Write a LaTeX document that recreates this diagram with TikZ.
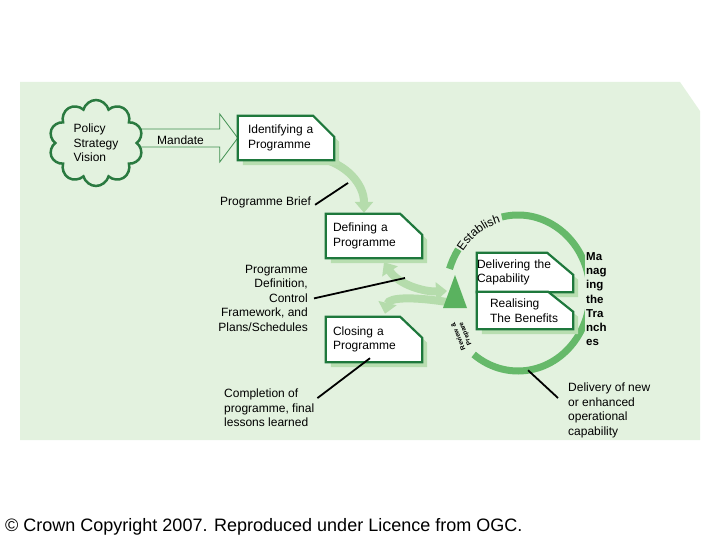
\documentclass[tikz,border=0pt]{standalone}
\usepackage{fontspec}
\setmainfont{Liberation Sans}
\usetikzlibrary{shapes.symbols,arrows.meta,calc,decorations.text}
\definecolor{panelbg}{HTML}{E3F2DF}
\definecolor{boxgreen}{HTML}{1E783C}
\definecolor{cloudgreen}{HTML}{2A7A40}
\definecolor{shadowgreen}{HTML}{B8DEB0}
\definecolor{lightarrow}{HTML}{B5DCAC}
\definecolor{ringgreen}{HTML}{66B96A}
\definecolor{trigreen}{HTML}{5AB25F}
\definecolor{mandgreen}{HTML}{3F8F50}
\pgfdeclarelayer{panel}
\pgfdeclarelayer{arrows}
\pgfdeclarelayer{boxes}
\pgfsetlayers{panel,arrows,boxes,main}
\newcommand{\drawchbox}[3]{%
  \fill[shadowgreen] ($(#1.north west)+(5,5)$) -- ($(#1.north east)+(5-#2,5)$) -- ($(#1.north east)+(5,5+#3)$) -- ($(#1.south east)+(5,5)$) -- ($(#1.south west)+(5,5)$) -- cycle;
  \filldraw[fill=white, draw=boxgreen, line width=2.2pt] (#1.north west) -- ($(#1.north east)+(-#2,0)$) -- ($(#1.north east)+(0,#3)$) -- (#1.south east) -- (#1.south west) -- cycle;
}
\tikzset{
  txt/.style={inner sep=0pt, align=left},
  pbox/.style={inner ysep=0pt, align=left},
  pointer/.style={draw=black, line width=1.8pt},
  lightarr/.style={draw=lightarrow, line width=8pt, -{Triangle[width=18pt,length=11pt]}},
  lightarrboth/.style={draw=lightarrow, line width=8pt, {Triangle[width=18pt,length=11pt]}-{Triangle[width=18pt,length=11pt]}},
  ringline/.style={draw=ringgreen, line width=7pt},
  mandarrow/.style={draw=mandgreen, line width=0.8pt, line join=miter},
}
\begin{document}
\begin{tikzpicture}[x=1pt, y=-1pt, font=\fontsize{12}{14.5}\selectfont]
\useasboundingbox (0,0) rectangle (720,540);

\begin{pgfonlayer}{panel}
  \fill[panelbg] (20,82) -- (680,82) -- (700,111) -- (700,440) -- (20,440) -- cycle;
\end{pgfonlayer}

% cloud
\node[cloud, cloud puffs=10, aspect=1.1, draw=cloudgreen, line width=2.5pt, fill=panelbg,
      minimum width=94pt, minimum height=86pt, align=left, inner sep=0pt] (cloud) at (96,143)
      {Policy\\Strategy\\Vision};

% process boxes
\node[pbox, text width=76pt, inner xsep=10pt, minimum height=44pt] (ident) at (286,138) {Identifying a\\Programme};
\node[pbox, text width=82pt, inner xsep=7pt, minimum height=44pt] (defn) at (374,236) {Defining a\\Programme};
\node[pbox, text width=82pt, inner xsep=7pt, minimum height=45pt] (closing) at (374,339.5) {Closing a\\Programme};
\node[pbox, text width=96pt, inner xsep=0pt, minimum height=39pt] (deliv) at (525,272.5) {Delivering the\\Capability};
\node[pbox, text width=70pt, inner xsep=13pt, minimum height=37pt] (realis) at (525,310.5) {Realising\\The Benefits};

\begin{pgfonlayer}{boxes}
  \drawchbox{ident}{21}{21}
  \drawchbox{defn}{22}{21}
  \drawchbox{closing}{22}{21}
  \drawchbox{deliv}{26}{22}
  \drawchbox{realis}{25}{20}
  \fill[trigreen] (455,275) -- (467,308) -- (443,308) -- cycle;
\end{pgfonlayer}
\coordinate (tri) at (455,295);

% mandate arrow
\coordinate (ms) at (cloud.center |- ident.west);
\node[txt, anchor=west] (mandate) at (157,140) {Mandate};
\begin{pgfonlayer}{arrows}
  \draw[mandarrow] ($(ms)+(0,-9)$) -- ($(ident.west)+(-18,-9)$) -- ($(ident.west)+(-18,-24)$) -- (ident.west)
        -- ($(ident.west)+(-18,24)$) -- ($(ident.west)+(-18,9)$) -- ($(ms)+(0,9)$);
  % light green flow arrows
  \draw[lightarr] ($(ident.south east)+(-14,-2)$) .. controls ($(ident.south east)+(12,4)$) and ($(defn.north)+(-10,-30)$) .. ($(defn.north)+(-10,-1)$);
  \draw[lightarrboth] ($(defn.south)+(10,4)$) .. controls ($(defn.south)+(25,27)$) and ($(tri)+(-30,-3)$) .. ($(tri)+(-8,-4)$);
  \draw[lightarr] ($(tri)+(-8,7)$) .. controls ($(tri)+(-40,2)$) and ($(closing.north)+(15,-20)$) .. ($(closing.north)+(11,-3)$);
  % ring
  \coordinate (ringc) at (518,293);
  \draw[ringline] ($(ringc)+(257:72 and 78)$) arc[start angle=257, end angle=488, x radius=72, y radius=78];
  \draw[ringline] ($(ringc)+(198:72 and 78)$) arc[start angle=198, end angle=214, x radius=72, y radius=78];
\end{pgfonlayer}

\path[decorate, decoration={text along path, text={|\fontsize{12}{12}\selectfont|Establish}, text align=center}]
  ($(ringc)+(212:67 and 73)$) arc[start angle=212, end angle=258, x radius=67, y radius=73];

\node[rotate=112, inner sep=0pt, align=center, font=\fontsize{6.5}{7.5}\selectfont\bfseries] (review) at (462,335) {Review \&\\Prepare};

\node[anchor=north west, inner sep=1pt, fill=panelbg, align=left, font=\fontsize{11.5}{14.3}\selectfont\bfseries] (manage) at (585,251) {Ma\\nag\\ing\\the\\Tra\\nch\\es};

% labels
\node[txt, anchor=north west] (brief) at (220,197) {Programme Brief};
\node[txt, anchor=north east, align=right] (pdef) at (308,265) {Programme\\Definition,\\Control\\Framework, and\\Plans/Schedules};
\node[txt, anchor=north west] (compl) at (224,389) {Completion of\\programme, final\\lessons learned};
\node[txt, anchor=north west] (delivery) at (568,383) {Delivery of new\\or enhanced\\operational\\capability};

% pointer lines
\coordinate (briefend) at (348,183);
\draw[pointer] ($(brief.east)+(4,2)$) -- (briefend);
\coordinate (pdefend) at (405,278);
\draw[pointer] ($(pdef.east)+(6,0)$) -- (pdefend);
\draw[pointer] ($(compl.east)+(3,-10)$) -- ($(closing.south)+(-4,-4)$);
\coordinate (ringbot) at ($(ringc)+(82:72 and 78)$);
\draw[pointer] (ringbot) -- ($(delivery.north west)+(-10,15)$);

\node[anchor=base west, inner sep=0pt, font=\fontsize{18}{20}\selectfont] (copy) at (5,531) {© Crown Copyright 2007. Reproduced under Licence from OGC.};
\end{tikzpicture}
\end{document}
